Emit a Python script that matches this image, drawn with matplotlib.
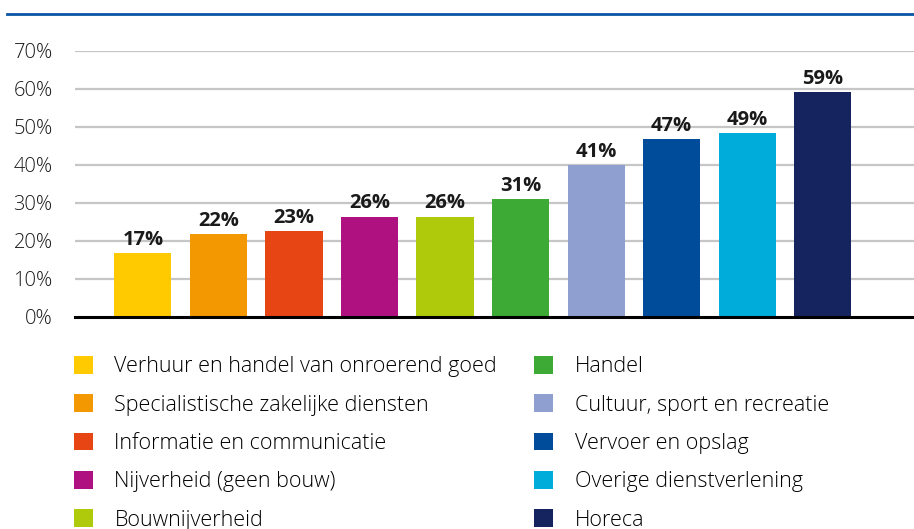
import matplotlib.pyplot as plt
from matplotlib.patches import Patch

sectors = [
    "Verhuur en handel van onroerend goed",
    "Specialistische zakelijke diensten",
    "Informatie en communicatie",
    "Nijverheid (geen bouw)",
    "Bouwnijverheid",
    "Handel",
    "Cultuur, sport en recreatie",
    "Vervoer en opslag",
    "Overige dienstverlening",
    "Horeca",
]
heights = [16.7, 21.8, 22.6, 26.4, 26.4, 31.1, 40.0, 46.9, 48.4, 59.1]
labels = ["17%", "22%", "23%", "26%", "26%", "31%", "41%", "47%", "49%", "59%"]
colors = ["#FFCB00", "#F39800", "#E84515", "#AF1280", "#AFCA0B",
          "#3CAA35", "#8F9FD0", "#004C9B", "#00ACDA", "#15235E"]
yticks = [0, 10, 20, 30, 40, 50, 60, 70]

plt.rcParams['font.family'] = ['Open Sans', 'DejaVu Sans']
text_color = "#1a1a1a"

fig = plt.figure(figsize=(9.14, 5.29), dpi=100)
ax = fig.add_axes([0.082, 0.401, 0.918, 0.503])

x = range(len(heights))
ax.bar(x, heights, width=0.756, color=colors, zorder=3)
for xi, h, lab in zip(x, heights, labels):
    ax.text(xi, h + 0.8, lab, ha="center", va="bottom", fontsize=14.5,
            fontweight="bold", color=text_color)

ax.set_xlim(-0.9, 10.21)
ax.set_ylim(0, 70)
ax.set_yticks(yticks)
ax.set_yticklabels([f"{t}%" for t in yticks], fontsize=14.5, color=text_color,
                   fontweight="light")
ax.tick_params(axis="y", length=0, pad=16)
ax.set_xticks([])
for t in yticks[1:]:
    ax.axhline(t, color="#C6C6C6", lw=1.6, zorder=1)
for s in ["top", "right", "left"]:
    ax.spines[s].set_visible(False)
ax.spines["bottom"].set_linewidth(2.2)
ax.spines["bottom"].set_color("black")
ax.spines["bottom"].set_zorder(4)

# blue rule under the (clipped) title
fig.add_artist(plt.Line2D([7 / 914, 1], [1 - 14 / 529, 1 - 14 / 529],
                          color="#0A55A5", lw=2))

handles = [Patch(facecolor=c, edgecolor="none") for c in colors]
fig.legend(handles, sectors, loc="upper left", ncol=2,
           bbox_to_anchor=(74 / 914, 1 - 356 / 529), frameon=False,
           handlelength=0.88, handleheight=0.88,
           handletextpad=1.0, labelspacing=0.795, columnspacing=1.72,
           borderaxespad=0, borderpad=0, prop={"weight": "light", "size": 15.5})

fig.savefig("out.png", dpi=100)
